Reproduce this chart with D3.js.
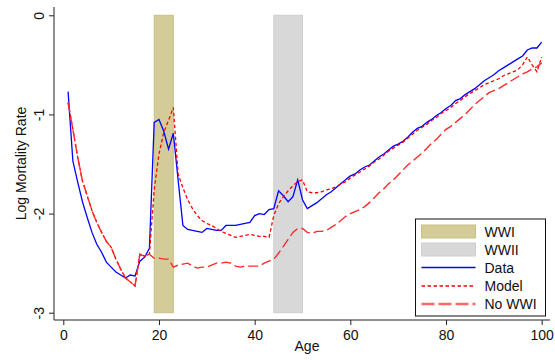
<!DOCTYPE html>
<html>
<head>
<meta charset="utf-8">
<script src="https://cdn.jsdelivr.net/npm/d3@7"></script>
<style>
  html, body { margin: 0; padding: 0; background: #fff; }
  svg { display: block; font-family: "Liberation Sans", Arial, Helvetica, sans-serif; }
</style>
</head>
<body>
<svg id="chart" width="555" height="360"></svg>
<script>
// Ages 1..100
const ages = d3.range(1, 101);

// Observed log mortality rate
const dataSeries = [
  -0.77, -1.47, -1.68, -1.88, -2.04, -2.19, -2.31, -2.39, -2.49, -2.54,
  -2.59, -2.62, -2.65, -2.62, -2.63, -2.48, -2.44, -2.35, -1.08, -1.05,
  -1.17, -1.35, -1.19, -1.66, -2.12, -2.16, -2.17, -2.18, -2.19, -2.15,
  -2.16, -2.17, -2.17, -2.12, -2.12, -2.12, -2.11, -2.10, -2.09, -2.02,
  -2.00, -2.01, -1.96, -1.95, -1.77, -1.82, -1.88, -1.83, -1.66, -1.86,
  -1.95, -1.92, -1.89, -1.85, -1.81, -1.78, -1.74, -1.70, -1.66, -1.62,
  -1.60, -1.56, -1.53, -1.51, -1.47, -1.43, -1.40, -1.36, -1.32, -1.30,
  -1.27, -1.23, -1.18, -1.14, -1.12, -1.08, -1.05, -1.01, -0.98, -0.94,
  -0.91, -0.86, -0.84, -0.80, -0.77, -0.74, -0.70, -0.66, -0.63, -0.60,
  -0.56, -0.53, -0.50, -0.47, -0.44, -0.41, -0.35, -0.33, -0.33, -0.27
];

// Model prediction
const modelSeries = [
  -0.88, -1.15, -1.43, -1.67, -1.82, -1.97, -2.09, -2.19, -2.28, -2.34,
  -2.46, -2.56, -2.65, -2.69, -2.73, -2.41, -2.43, -2.41, -1.76, -1.40,
  -1.18, -1.06, -0.93, -1.60, -1.74, -1.86, -1.95, -2.02, -2.07, -2.10,
  -2.12, -2.15, -2.18, -2.20, -2.22, -2.24, -2.23, -2.22, -2.21, -2.22,
  -2.23, -2.23, -2.24, -2.02, -1.90, -1.83, -1.77, -1.72, -1.68, -1.66,
  -1.78, -1.79, -1.79, -1.78, -1.76, -1.75, -1.73, -1.70, -1.68, -1.64,
  -1.61, -1.58, -1.55, -1.52, -1.48, -1.45, -1.41, -1.37, -1.34, -1.31,
  -1.28, -1.24, -1.20, -1.16, -1.13, -1.10, -1.06, -1.03, -0.99, -0.96,
  -0.93, -0.89, -0.86, -0.82, -0.79, -0.76, -0.73, -0.70, -0.68, -0.66,
  -0.64, -0.61, -0.59, -0.57, -0.55, -0.50, -0.42, -0.50, -0.57, -0.42
];

// Counterfactual without WWI
const noWWISeries = [
  -0.88, -1.15, -1.43, -1.67, -1.82, -1.97, -2.09, -2.19, -2.28, -2.34,
  -2.46, -2.56, -2.65, -2.69, -2.73, -2.41, -2.43, -2.41, -2.45, -2.45,
  -2.46, -2.46, -2.54, -2.52, -2.51, -2.50, -2.53, -2.55, -2.54, -2.54,
  -2.52, -2.50, -2.50, -2.49, -2.50, -2.53, -2.54, -2.53, -2.53, -2.53,
  -2.53, -2.50, -2.48, -2.46, -2.40, -2.33, -2.26, -2.19, -2.15, -2.15,
  -2.19, -2.20, -2.18, -2.18, -2.17, -2.14, -2.11, -2.07, -2.03, -2.00,
  -1.98, -1.96, -1.93, -1.89, -1.84, -1.79, -1.75, -1.70, -1.66, -1.61,
  -1.56, -1.51, -1.47, -1.43, -1.39, -1.34, -1.29, -1.25, -1.20, -1.15,
  -1.12, -1.08, -1.04, -1.00, -0.95, -0.90, -0.86, -0.82, -0.78, -0.76,
  -0.74, -0.71, -0.68, -0.65, -0.62, -0.59, -0.57, -0.54, -0.52, -0.48
];

// War periods (age ranges of the cohort)
const warNames = ["WWI", "WWII"];
const warStart = [19, 44];
const warEnd = [23, 50];

const xTicks = [0, 20, 40, 60, 80, 100];
const yTicks = [-3, -2, -1, 0];

const svg = d3.select("#chart");
const FONT = 14;

// plot frame
const plotLeft = 54, plotRight = 550, plotTop = 7, plotBottom = 320;

const x = d3.scaleLinear().domain([0, 100]).range([63.3, 541.7]);
const y = d3.scaleLinear().domain([-3, 0]).range([312.7, 15.3]);

// shaded war bands
const bandStyle = [
  { fill: "#d4cc98", stroke: "#c9c084" },
  { fill: "#d8d8d8", stroke: "#cecece" }
];
svg.append("g").selectAll("rect")
  .data(warNames.map((n, i) => ({ name: n, a: warStart[i], b: warEnd[i], s: bandStyle[i] })))
  .join("rect")
  .attr("x", d => x(d.a))
  .attr("width", d => x(d.b) - x(d.a))
  .attr("y", y(0))
  .attr("height", y(-3) - y(0))
  .attr("fill", d => d.s.fill)
  .attr("stroke", d => d.s.stroke)
  .attr("stroke-width", 1);

// series lines
const line = d3.line().x((d, i) => x(ages[i])).y(d => y(d));
const series = [
  { name: "Data", values: dataSeries, color: "#0000ff", width: 1.3, dash: null },
  { name: "Model", values: modelSeries, color: "#ff0000", width: 1.3, dash: "3.5,2.5" },
  { name: "No WWI", values: noWWISeries, color: "#ff2a2a", width: 1.4, dash: "10,4" }
];
svg.append("g").selectAll("path")
  .data(series)
  .join("path")
  .attr("d", d => line(d.values))
  .attr("fill", "none")
  .attr("stroke", d => d.color)
  .attr("stroke-width", d => d.width)
  .attr("stroke-dasharray", d => d.dash);

// axes
const axisColor = "#222";
const gx = svg.append("g").attr("transform", `translate(0,${plotBottom})`)
  .call(d3.axisBottom(x).tickValues(xTicks).tickFormat(d3.format("d")).tickSize(5).tickSizeOuter(0));
gx.select(".domain").remove();
gx.selectAll("line").attr("stroke", axisColor);
gx.selectAll("text").attr("y", 19.5).attr("dy", 0)
  .attr("font-size", FONT).attr("fill", "#111").attr("font-family", null);
svg.append("line").attr("x1", plotLeft).attr("x2", plotRight)
  .attr("y1", plotBottom).attr("y2", plotBottom).attr("stroke", axisColor);

const gy = svg.append("g").attr("transform", `translate(${plotLeft},0)`)
  .call(d3.axisLeft(y).tickValues(yTicks).tickFormat(d3.format("d")).tickSize(5).tickSizeOuter(0));
gy.select(".domain").remove();
gy.selectAll("line").attr("stroke", axisColor);
gy.selectAll("text")
  .text(d => d3.format("d")(d).replace("\u2212", "-"))
  .attr("transform", "rotate(-90)")
  .attr("x", 0).attr("y", -10).attr("dy", 0)
  .attr("text-anchor", "middle")
  .attr("font-size", FONT).attr("fill", "#111").attr("font-family", null);
svg.append("line").attr("x1", plotLeft).attr("x2", plotLeft)
  .attr("y1", plotTop).attr("y2", plotBottom).attr("stroke", axisColor);

// axis titles
svg.append("text").attr("x", (plotLeft + plotRight) / 2 + 5).attr("y", 351)
  .attr("text-anchor", "middle").attr("font-size", FONT).attr("fill", "#111").text("Age");
svg.append("text")
  .attr("transform", `translate(26,${(plotTop + plotBottom) / 2}) rotate(-90)`)
  .attr("text-anchor", "middle").attr("font-size", FONT).attr("fill", "#111")
  .text("Log Mortality Rate");

// legend
const lg = svg.append("g").attr("transform", "translate(415.5,219)");
lg.append("rect").attr("width", 130).attr("height", 97)
  .attr("fill", "#fff").attr("stroke", "#111").attr("stroke-width", 1);
const rowY = [12.5, 30.5, 48.5, 67, 85];
const keyX0 = 6, keyX1 = 60, textX = 69;
warNames.forEach((n, i) => {
  lg.append("rect").attr("x", keyX0).attr("y", rowY[i] - 6.5)
    .attr("width", keyX1 - keyX0).attr("height", 13)
    .attr("fill", bandStyle[i].fill).attr("stroke", bandStyle[i].stroke);
});
const legendLines = [
  { color: "#0000ff", width: 1.3, dash: null },
  { color: "#ff0000", width: 1.3, dash: "3.5,2.5" },
  { color: "#ff6666", width: 2.4, dash: "13,4" }
];
series.forEach((s, i) => {
  const st = legendLines[i];
  lg.append("line").attr("x1", keyX0).attr("x2", keyX1)
    .attr("y1", rowY[i + 2]).attr("y2", rowY[i + 2])
    .attr("stroke", st.color).attr("stroke-width", st.width)
    .attr("stroke-dasharray", st.dash);
});
const legendLabels = warNames.concat(series.map(s => s.name));
legendLabels.forEach((t, i) => {
  lg.append("text").attr("x", textX).attr("y", rowY[i] + 5)
    .attr("font-size", FONT).attr("fill", "#111").text(t);
});
</script>
</body>
</html>
